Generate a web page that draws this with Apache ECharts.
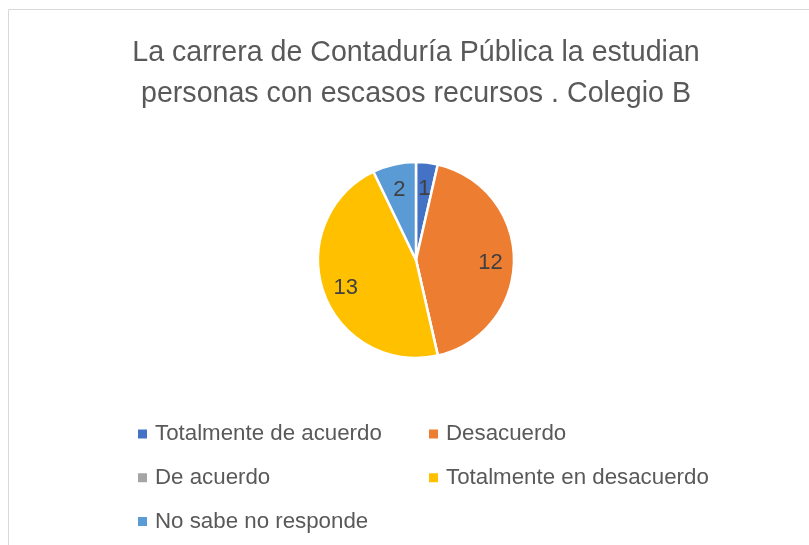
<!DOCTYPE html>
<html>
<head>
<meta charset="utf-8">
<script src="https://cdn.jsdelivr.net/npm/echarts@6/dist/echarts.min.js"></script>
<style>
html,body{margin:0;padding:0;background:#fff;}
#chart{width:809px;height:545px;}
</style>
</head>
<body>
<div id="chart"></div>
<script>
var titleLines = ['La carrera de Contaduría Pública la estudian', 'personas con escasos recursos . Colegio B'];
var categories = ['Totalmente de acuerdo', 'Desacuerdo', 'De acuerdo', 'Totalmente en desacuerdo', 'No sabe no responde'];
var values = [1, 12, 0, 13, 2];
var colors = ['#4472C4', '#ED7D31', '#A5A5A5', '#FFC000', '#5B9BD5'];
var legendLeftColumn = ['Totalmente de acuerdo', 'De acuerdo', 'No sabe no responde'];
var legendRightColumn = ['Desacuerdo', 'Totalmente en desacuerdo'];

var FONT = '"Liberation Sans", Arial, sans-serif';
var chart = echarts.init(document.getElementById('chart'), null, {renderer: 'canvas'});

var pieData = categories.map(function (c, i) {
  return {name: c, value: values[i], itemStyle: {color: colors[i]}};
});
var labelData = categories.map(function (c, i) {
  return {name: c, value: values[i]};
});

var R = 98;
var legendCommon = {
  orient: 'vertical',
  top: 418,
  itemWidth: 11,
  itemHeight: 11,
  itemGap: 21.7,
  icon: 'rect',
  selectedMode: false,
  textStyle: {fontFamily: FONT, fontSize: 22.3, color: '#595959', lineHeight: 22, padding: [0, 0, 0, 2]}
};

chart.setOption({
  animation: false,
  backgroundColor: '#fff',
  graphic: [{
    type: 'rect',
    shape: {x: 8.5, y: 9.5, width: 900, height: 700},
    style: {fill: 'none', stroke: '#D9D9D9', lineWidth: 1},
    silent: true,
    z: -10
  }],
  title: {
    text: titleLines.join('\n'),
    left: 411,
    top: 28,
    textAlign: 'center',
    textStyle: {fontFamily: FONT, fontSize: 28.6, fontWeight: 'normal', color: '#595959', lineHeight: 41}
  },
  legend: [
    Object.assign({}, legendCommon, {left: 131, data: legendLeftColumn}),
    Object.assign({}, legendCommon, {left: 422, data: legendRightColumn})
  ],
  series: [{
    type: 'pie',
    center: [416, 260],
    radius: [0, R],
    startAngle: 90,
    clockwise: true,
    avoidLabelOverlap: false,
    silent: true,
    data: pieData,
    itemStyle: {borderColor: '#fff', borderWidth: 2.5},
    label: {show: false},
    labelLine: {show: false}
  }, {
    type: 'pie',
    center: [416, 263],
    radius: [R * 0.46, R],
    startAngle: 90,
    clockwise: true,
    avoidLabelOverlap: false,
    silent: true,
    z: 3,
    data: labelData,
    itemStyle: {color: 'rgba(0,0,0,0)', borderWidth: 0},
    label: {
      show: true,
      position: 'inside',
      fontFamily: FONT,
      fontSize: 22,
      color: '#404040',
      formatter: function (p) { return p.value === 0 ? '' : String(p.value); }
    },
    labelLine: {show: false}
  }]
});
</script>
</body>
</html>
